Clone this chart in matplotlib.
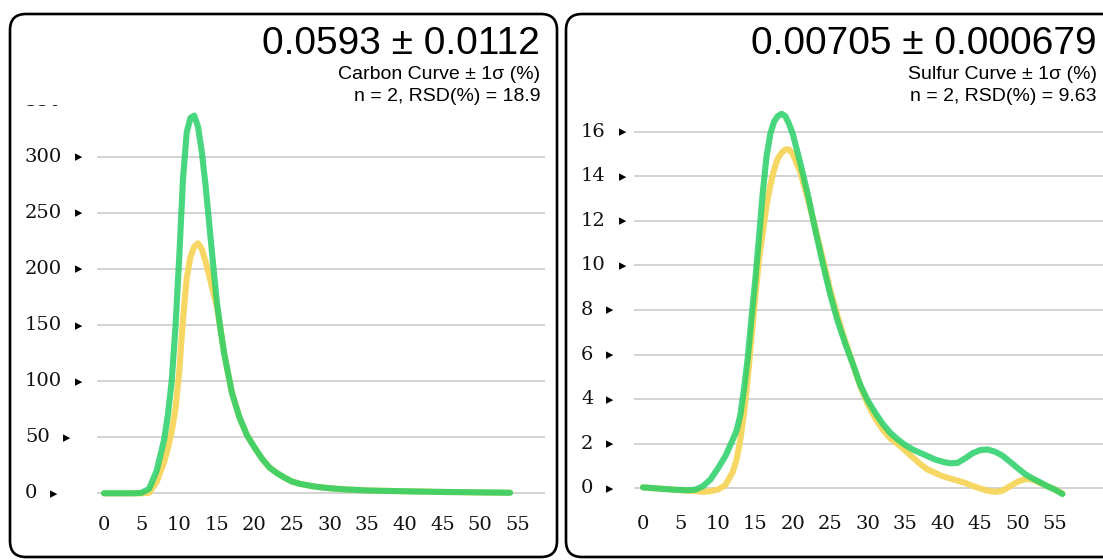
import matplotlib.pyplot as plt
from matplotlib.patches import FancyBboxPatch, Rectangle
from matplotlib.transforms import IdentityTransform, blended_transform_factory

# carbon curves (two runs)
carbon_x = [0, 1, 2, 3, 4, 5, 6, 7, 8, 8.5, 9, 9.5, 10, 10.5, 11, 11.5, 12, 12.5,
            13, 13.5, 14, 14.5, 15, 15.5, 16, 17, 18, 19, 20, 21, 22, 23, 24, 25,
            26, 28, 30, 32, 35, 40, 45, 50, 54]
carbon_run1 = [0, 0, 0, 0, 0, 0, 0.5, 10, 28, 40, 55, 75, 108, 155, 192, 211, 220, 223,
               218, 207, 194, 180, 167, 146, 124, 90, 68, 52, 41, 31, 23, 18, 14, 10.5,
               8.5, 6, 4.5, 3.5, 2.5, 1.8, 1.2, 0.8, 0.5]
carbon_run2 = [0, 0, 0, 0, 0, 0.5, 4, 20, 48, 70, 100, 148, 210, 280, 322, 335, 337, 327,
               305, 275, 240, 205, 171, 146, 124, 90, 68, 52, 41, 31, 23, 18, 14, 10.5,
               8.5, 6, 4.5, 3.5, 2.5, 1.8, 1.2, 0.8, 0.5]

# sulfur curves (two runs)
sulfur_x = [0, 2, 4, 6, 7, 8, 9, 10, 11, 12, 12.5, 13, 13.5, 14, 14.5, 15, 15.5, 16,
            16.5, 17, 17.5, 18, 18.5, 19, 19.5, 20, 21, 22, 23, 24, 25, 26, 27, 28,
            29, 30, 31, 32, 33, 34, 35, 36, 37, 38, 39, 40, 41, 42, 43, 44, 45, 46,
            47, 48, 49, 50, 51, 52, 53, 54, 55, 56]
sulfur_run1 = [0.05, 0.0, -0.05, -0.1, -0.12, -0.15, -0.12, -0.05, 0.15, 0.75, 1.3, 2.2,
               3.4, 5.0, 6.8, 8.6, 10.3, 11.5, 12.7, 13.6, 14.3, 14.8, 15.05, 15.2, 15.2,
               15.0, 14.2, 13.0, 11.7, 10.3, 8.9, 7.7, 6.6, 5.6, 4.6, 3.8, 3.15, 2.65,
               2.25, 2.0, 1.7, 1.4, 1.1, 0.85, 0.7, 0.55, 0.45, 0.35, 0.25, 0.12, 0.0,
               -0.1, -0.15, -0.1, 0.1, 0.3, 0.42, 0.4, 0.25, 0.1, -0.05, -0.22]
sulfur_run2 = [0.05, 0.0, -0.05, -0.08, -0.05, 0.1, 0.4, 0.9, 1.45, 2.2, 2.6, 3.3,
               4.5, 5.9, 7.7, 9.4, 11.3, 13.3, 14.9, 15.9, 16.45, 16.7, 16.8, 16.7, 16.35,
               15.9, 14.6, 13.2, 11.6, 10.1, 8.7, 7.5, 6.5, 5.6, 4.65, 3.95, 3.4, 2.9,
               2.5, 2.2, 1.95, 1.75, 1.6, 1.45, 1.3, 1.2, 1.13, 1.15, 1.35, 1.58, 1.72,
               1.75, 1.65, 1.47, 1.2, 0.92, 0.65, 0.45, 0.28, 0.1, -0.05, -0.25]

carbon_yticks = [0, 50, 100, 150, 200, 250, 300, 350]
sulfur_yticks = [0, 2, 4, 6, 8, 10, 12, 14, 16]
carbon_xticks = list(range(0, 65, 5))
sulfur_xticks = list(range(0, 60, 5))

carbon_title = "0.0593 ± 0.0112"
carbon_sub = ["Carbon Curve ± 1σ (%)", "n = 2, RSD(%) = 18.9"]
sulfur_title = "0.00705 ± 0.000679"
sulfur_sub = ["Sulfur Curve ± 1σ (%)", "n = 2, RSD(%) = 9.63"]

YELLOW = "#f7d55c"
GREEN = "#28cf67"
W, H = 1103, 560

fig = plt.figure(figsize=(W / 100, H / 100), dpi=100)


def px_rect(x0, y0, x1, y1):
    # pixel box measured from the top-left corner -> figure fraction
    return [x0 / W, 1 - y1 / H, (x1 - x0) / W, (y1 - y0) / H]


def make_panel(rect, xlim, ylim, x, run1, run2, yticks, xticks, label_x):
    ax = fig.add_axes(rect)
    for s in ax.spines.values():
        s.set_visible(False)
    ax.set_yticks(yticks)
    ax.set_yticklabels([])
    ax.set_xticks(xticks)
    ax.set_xticklabels([str(t) for t in xticks], family="DejaVu Serif",
                       fontsize=14, color="#111111")
    # limits after the ticks, otherwise set_xticks widens the view
    ax.set_xlim(*xlim)
    ax.set_ylim(*ylim)
    ax.tick_params(length=0, pad=8)
    ax.grid(axis="y", color="#cccccc", lw=1.2)
    ax.set_axisbelow(True)

    ax.plot(x, run1, color=YELLOW, lw=4.4, alpha=0.95,
            solid_capstyle="round", solid_joinstyle="round")
    ax.plot(x, run2, color=GREEN, lw=4.4, alpha=0.85,
            solid_capstyle="round", solid_joinstyle="round")

    # left-aligned y labels followed by a small pointer
    tr = blended_transform_factory(fig.transFigure, ax.transData)
    for t in yticks:
        lbl = ax.text(label_x / W, t, str(t), transform=tr, ha="left", va="center",
                      family="DejaVu Serif", fontsize=14, color="#111111")
        ax.annotate("▸", xy=(1, 0.5), xycoords=lbl, xytext=(12, 0),
                    textcoords="offset points", ha="center", va="center",
                    fontsize=10.5, color="black")
    return ax


ax1 = make_panel(px_rect(97, 101, 545, 504.5), (-0.93, 58.64), (-10, 350),
                 carbon_x, carbon_run1, carbon_run2, carbon_yticks, carbon_xticks, 25)
ax2 = make_panel(px_rect(634, 98.25, 1110, 504.1), (-1.2, 62.35), (-0.7, 17.5),
                 sulfur_x, sulfur_run1, sulfur_run2, sulfur_yticks, sulfur_xticks, 581)

# white header strips and clipping of the last x label
for x0, y0, x1, y1 in [(12, 16, 556, 105), (568, 16, 1103, 102), (545, 508, 556, 545)]:
    fig.add_artist(Rectangle((x0 / W, 1 - y1 / H), (x1 - x0) / W, (y1 - y0) / H,
                             transform=fig.transFigure, facecolor="white",
                             edgecolor="none", zorder=1))

# headers
for right, title, sub in [(540, carbon_title, carbon_sub), (1097, sulfur_title, sulfur_sub)]:
    fig.text(right / W, 1 - 54 / H, title, ha="right", va="baseline",
             family="Liberation Sans", fontsize=28, color="black", zorder=3)
    fig.text(right / W, 1 - 79 / H, sub[0], ha="right", va="baseline",
             family="Liberation Sans", fontsize=14, color="black", zorder=3)
    fig.text(right / W, 1 - 101 / H, sub[1], ha="right", va="baseline",
             family="Liberation Sans", fontsize=14, color="black", zorder=3)

# rounded panel frames
for x0, x1 in [(10, 557), (566, 1125)]:
    fig.add_artist(FancyBboxPatch((x0, H - 557), x1 - x0, 557 - 14,
                                  boxstyle="round,pad=0,rounding_size=16",
                                  transform=IdentityTransform(), facecolor="none",
                                  edgecolor="black", lw=1.9, zorder=4))

fig.savefig("out.png", dpi=100)
